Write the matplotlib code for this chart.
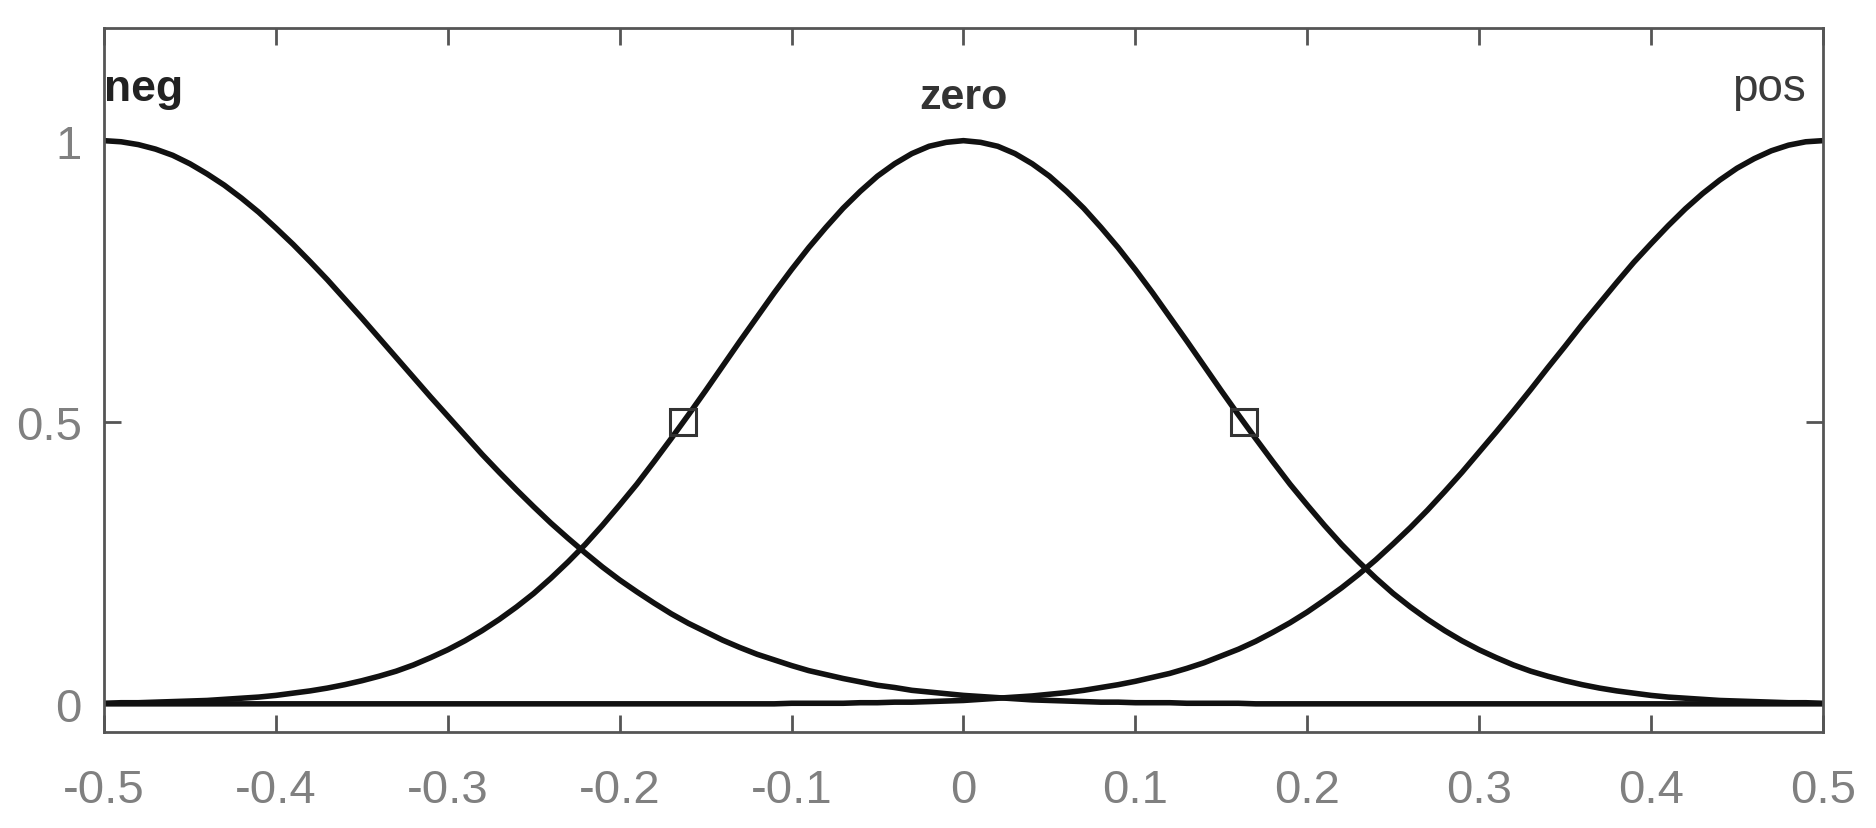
import numpy as np
import matplotlib.pyplot as plt

plt.rcParams['font.family'] = ['Liberation Sans', 'DejaVu Sans']

# input axis samples, -0.5 .. 0.5 step 0.01
x_vals = np.round(np.linspace(-0.5, 0.5, 101), 2)

# membership values
# neg: from x = -0.5 rightwards
neg = [1.000, 0.998, 0.993, 0.985, 0.974, 0.959, 0.941, 0.921, 0.898, 0.873,
       0.845, 0.816, 0.785, 0.753, 0.719, 0.685, 0.650, 0.615, 0.580, 0.545,
       0.511, 0.477, 0.443, 0.411, 0.380, 0.350, 0.321, 0.294, 0.268, 0.243,
       0.220, 0.199, 0.179, 0.160, 0.143, 0.128, 0.113, 0.100, 0.088, 0.078,
       0.068, 0.059, 0.052, 0.045, 0.039, 0.033, 0.029, 0.024, 0.021, 0.018,
       0.015, 0.013, 0.011, 0.009, 0.007, 0.006, 0.005, 0.004, 0.003, 0.003,
       0.002, 0.002, 0.002, 0.001, 0.001, 0.001, 0.001]
neg = neg + [0.0] * (101 - len(neg))

# zero: from x = 0 outwards (symmetric)
zero_half = [1.000, 0.997, 0.990, 0.977, 0.959, 0.937, 0.910, 0.880, 0.846,
             0.810, 0.771, 0.730, 0.687, 0.644, 0.600, 0.556, 0.513, 0.471,
             0.430, 0.390, 0.353, 0.317, 0.283, 0.252, 0.223, 0.196, 0.172,
             0.150, 0.130, 0.112, 0.096, 0.082, 0.069, 0.058, 0.049, 0.041,
             0.034, 0.028, 0.023, 0.019, 0.015, 0.012, 0.010, 0.008, 0.006,
             0.005, 0.004, 0.003, 0.002, 0.002, 0.001]
zero = zero_half[::-1] + zero_half[1:]

# pos: from x = 0.5 leftwards
pos_from_right = [1.000, 0.998, 0.992, 0.982, 0.968, 0.951, 0.930, 0.906, 0.879,
                  0.849, 0.817, 0.784, 0.748, 0.711, 0.674, 0.635, 0.597, 0.558,
                  0.520, 0.483, 0.447, 0.411, 0.377, 0.344, 0.313, 0.284, 0.256,
                  0.230, 0.206, 0.184, 0.163, 0.144, 0.127, 0.111, 0.097, 0.085,
                  0.073, 0.063, 0.054, 0.047, 0.040, 0.034, 0.029, 0.024, 0.020,
                  0.017, 0.014, 0.012, 0.010, 0.008, 0.006, 0.005, 0.004, 0.003,
                  0.003, 0.002, 0.002, 0.001, 0.001, 0.001, 0.001]
pos = ([0.0] * (101 - len(pos_from_right)) + pos_from_right[::-1])

# half-height points marked on "zero"
marker_x = [-0.163, 0.163]
marker_y = [0.5, 0.5]

labels = ['neg', 'zero', 'pos']
label_x = [-0.5, 0.0, 0.49]
label_y = [1.073, 1.058, 1.073]

fig = plt.figure(figsize=(18.76, 8.29), dpi=100)
ax = fig.add_axes([0.0554, 0.1158, 0.9163, 0.8492])

for y in (neg, zero, pos):
    ax.plot(x_vals, y, color='#111111', lw=4, solid_capstyle='butt')

ax.plot(marker_x, marker_y, ls='none', marker='s', ms=19, mfc='none',
        mec='#333333', mew=2.2)

ax.text(label_x[0], label_y[0], labels[0], ha='left', va='baseline',
        fontsize=32, fontweight='bold', color='#222222')
ax.text(label_x[1], label_y[1], labels[1], ha='center', va='baseline',
        fontsize=31, fontweight='bold', color='#333333')
ax.text(label_x[2], label_y[2], labels[2], ha='right', va='baseline',
        fontsize=33, color='#3a3a3a')

ax.set_xlim(-0.5, 0.5)
ax.set_ylim(-0.05, 1.2)
ax.set_xticks(np.round(np.arange(-0.5, 0.51, 0.1), 1))
ax.set_xticklabels(['-0.5', '-0.4', '-0.3', '-0.2', '-0.1', '0',
                    '0.1', '0.2', '0.3', '0.4', '0.5'])
ax.set_yticks([0, 0.5, 1])
ax.set_yticklabels(['0', '0.5', '1'])

ax.tick_params(direction='in', length=12, width=2, color='#555555',
               labelcolor='#808080', labelsize=34, top=True, right=True)
ax.tick_params(axis='x', pad=26)
ax.tick_params(axis='y', pad=16)
for s in ax.spines.values():
    s.set_color('#555555')
    s.set_linewidth(2)

fig.savefig('out.png', dpi=100)
